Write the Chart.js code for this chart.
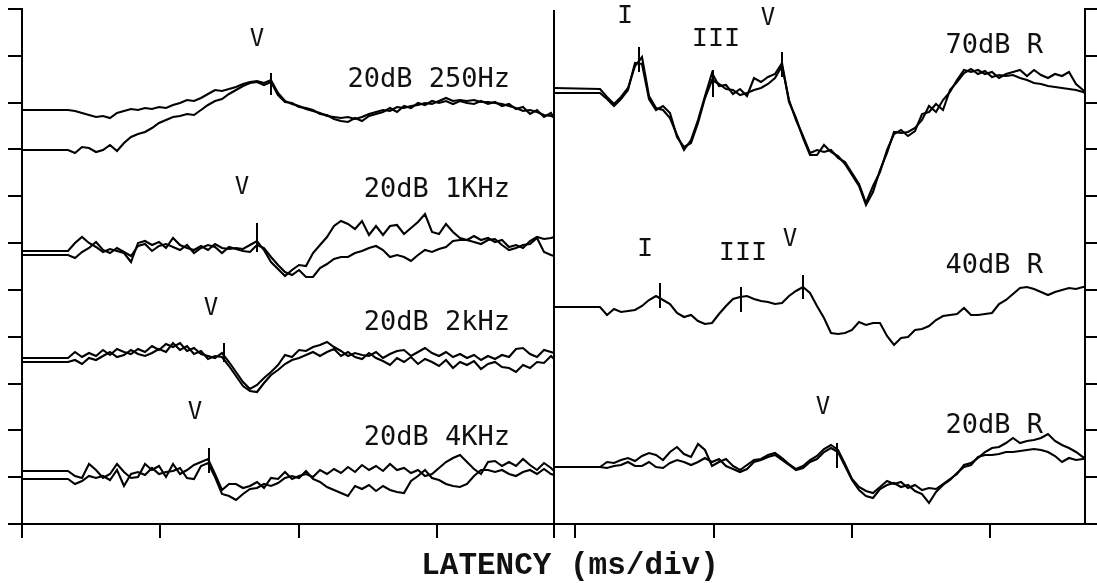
<!DOCTYPE html>
<html lang="en">

<head>
    <meta charset="UTF-8" />
    <title>ABR latency traces</title>
    <script src="https://cdn.jsdelivr.net/npm/chart.js"></script>
    <style>
        html, body { margin: 0; padding: 0; background: #fff; }
    </style>
</head>

<body>
    <canvas id="abrChart" width="1097" height="583"></canvas>

    <script>
        // sample times, in sample units (1 latency division = 138.3 units)
        const leftT = [0, 46, 53, 60, 67, 74, 81, 88, 95, 102, 109, 116, 123, 130, 137, 144, 151, 158, 165, 172, 179, 186, 193, 200, 207, 214, 221, 228, 235, 242, 249, 256, 263, 270, 277, 284, 291, 298, 305, 312, 319, 326, 333, 340, 347, 354, 361, 368, 375, 382, 389, 396, 403, 410, 417, 424, 431, 438, 445, 452, 459, 466, 473, 480, 487, 494, 501, 508, 515, 522, 529, 532];
        const rightT = [532, 578, 585, 592, 599, 606, 613, 620, 627, 634, 641, 648, 655, 662, 669, 676, 683, 690, 697, 704, 711, 718, 725, 732, 739, 746, 753, 760, 767, 774, 781, 788, 795, 802, 809, 816, 823, 830, 837, 844, 851, 858, 865, 872, 879, 886, 893, 900, 907, 914, 921, 928, 935, 942, 949, 956, 963, 970, 977, 984, 991, 998, 1005, 1012, 1019, 1026, 1033, 1040, 1047, 1054, 1061, 1063];

        // amplitudes (stacked, 1 amplitude division = 46.8 units)
        const hz250a = [414, 414, 413, 411, 409, 407, 408, 406, 411, 413, 415, 414, 416, 415, 417, 416, 419, 421, 424, 423, 426, 430, 434, 433, 435, 437, 440, 442, 443, 441, 444, 431, 423, 420, 418, 415, 413, 411, 408, 407, 406, 407, 405, 407, 410, 412, 414, 413, 417, 416, 418, 419, 421, 420, 423, 426, 423, 424, 423, 424, 422, 422, 421, 420, 418, 416, 413, 414, 412, 409, 408, 407];
        const hz250b = [374, 374, 371, 377, 376, 372, 374, 379, 373, 381, 387, 390, 392, 396, 401, 404, 407, 408, 410, 409, 414, 419, 423, 425, 430, 434, 438, 441, 442, 439, 442, 429, 422, 421, 417, 416, 414, 410, 409, 405, 403, 402, 406, 403, 408, 410, 412, 416, 412, 418, 416, 421, 419, 423, 421, 423, 420, 423, 421, 420, 423, 420, 422, 418, 420, 415, 417, 410, 414, 407, 411, 406];
        const k1a = [273, 273, 281, 287, 281, 277, 272, 275, 273, 271, 262, 281, 283, 279, 282, 276, 286, 279, 276, 274, 278, 274, 280, 276, 275, 276, 275, 279, 283, 274, 262, 255, 248, 254, 259, 258, 271, 279, 287, 298, 303, 300, 295, 303, 289, 298, 289, 298, 299, 290, 296, 302, 310, 292, 290, 300, 292, 286, 284, 288, 284, 286, 282, 284, 277, 279, 276, 283, 287, 285, 286, 287];
        const k1b = [269, 269, 266, 272, 276, 282, 274, 271, 276, 272, 268, 278, 280, 273, 278, 280, 277, 274, 279, 271, 276, 279, 277, 271, 277, 275, 273, 272, 279, 276, 267, 259, 252, 249, 254, 247, 247, 256, 260, 265, 267, 267, 271, 273, 276, 278, 274, 267, 269, 267, 263, 269, 274, 272, 275, 277, 283, 284, 284, 282, 280, 284, 285, 279, 274, 276, 279, 280, 286, 272, 269, 268];
        const k2a = [166, 166, 172, 167, 171, 168, 174, 169, 175, 172, 170, 175, 172, 178, 174, 180, 177, 181, 173, 176, 170, 168, 166, 171, 162, 152, 142, 135, 139, 146, 152, 159, 169, 167, 174, 173, 177, 179, 182, 177, 173, 168, 171, 169, 168, 172, 166, 170, 173, 174, 168, 172, 176, 171, 168, 172, 167, 170, 166, 169, 164, 168, 165, 169, 167, 175, 176, 170, 167, 174, 172, 171];
        const k2b = [162, 162, 164, 160, 166, 164, 168, 172, 167, 169, 174, 170, 168, 171, 175, 172, 181, 174, 178, 170, 173, 165, 168, 167, 158, 148, 138, 133, 132, 141, 149, 154, 160, 164, 166, 169, 172, 168, 172, 175, 168, 172, 167, 165, 171, 166, 163, 159, 166, 162, 167, 160, 165, 162, 158, 164, 156, 162, 159, 163, 155, 160, 162, 157, 156, 152, 159, 156, 162, 161, 168, 165];
        const k4a = [53, 53, 48, 46, 60, 54, 46, 50, 60, 52, 46, 47, 60, 54, 58, 47, 60, 50, 54, 59, 62, 65, 50, 34, 40, 40, 36, 38, 42, 36, 46, 45, 52, 45, 48, 50, 47, 54, 50, 55, 51, 57, 52, 59, 54, 58, 53, 60, 54, 56, 51, 54, 48, 50, 56, 62, 66, 69, 62, 55, 50, 62, 63, 58, 62, 58, 65, 59, 54, 61, 56, 53];
        const k4b = [45, 45, 40, 43, 48, 46, 48, 44, 54, 38, 50, 52, 49, 56, 50, 52, 53, 56, 46, 45, 58, 61, 47, 30, 28, 24, 30, 35, 36, 40, 38, 41, 46, 48, 46, 53, 45, 42, 37, 34, 31, 28, 38, 35, 39, 33, 38, 34, 32, 31, 43, 48, 54, 46, 44, 40, 38, 37, 40, 48, 54, 54, 52, 54, 50, 48, 52, 54, 50, 55, 50, 49];
        const db70a = [436, 435, 427, 420, 427, 436, 458, 467, 428, 416, 414, 406, 389, 374, 384, 404, 428, 451, 438, 439, 430, 435, 428, 446, 442, 447, 450, 461, 422, 406, 386, 369, 369, 379, 372, 368, 360, 349, 338, 319, 332, 354, 371, 392, 391, 392, 396, 404, 418, 412, 424, 432, 444, 454, 452, 454, 450, 452, 446, 450, 452, 454, 448, 454, 449, 446, 450, 448, 452, 440, 434, 432];
        const db70b = [431, 431, 425, 418, 425, 434, 461, 460, 425, 414, 418, 411, 387, 377, 381, 401, 426, 444, 440, 435, 434, 429, 431, 434, 436, 440, 446, 458, 424, 404, 388, 371, 374, 372, 374, 366, 362, 351, 340, 321, 338, 352, 374, 390, 394, 388, 393, 410, 412, 420, 414, 434, 442, 451, 455, 450, 453, 447, 449, 448, 449, 446, 444, 441, 440, 438, 437, 436, 435, 434, 432, 431];
        const db40 = [217, 217, 209, 215, 212, 213, 214, 218, 224, 228, 224, 220, 211, 207, 209, 203, 200, 201, 210, 218, 225, 227, 228, 225, 223, 222, 220, 221, 228, 233, 237, 231, 218, 206, 191, 190, 191, 194, 202, 199, 201, 201, 188, 179, 186, 187, 194, 195, 198, 204, 208, 209, 210, 216, 209, 209, 210, 211, 220, 224, 230, 236, 237, 235, 232, 229, 232, 234, 236, 235, 237, 237];
        const db20a = [57, 57, 62, 61, 64, 66, 63, 68, 71, 69, 64, 72, 77, 70, 67, 80, 74, 58, 62, 65, 58, 54, 59, 64, 65, 69, 71, 66, 60, 55, 58, 64, 68, 75, 79, 74, 60, 45, 37, 33, 31, 37, 43, 40, 42, 36, 39, 34, 36, 35, 40, 45, 50, 59, 61, 66, 72, 76, 77, 81, 86, 81, 83, 84, 86, 90, 83, 79, 76, 72, 67, 66];
        const db20b = [57, 57, 56, 58, 59, 62, 58, 58, 62, 57, 56, 61, 64, 62, 59, 62, 66, 62, 65, 58, 55, 52, 55, 62, 64, 67, 69, 64, 59, 54, 56, 62, 65, 72, 76, 72, 58, 44, 34, 28, 26, 35, 39, 41, 37, 39, 33, 30, 21, 32, 39, 44, 51, 57, 59, 67, 69, 69, 70, 72, 72, 73, 74, 75, 74, 72, 68, 62, 66, 64, 65, 65];

        // wave peak markers
        const markT = [249, 235, 202, 187, 617, 691, 760, 638, 719, 781, 815];
        const markLo = [429, 272, 162, 51, 452, 427, 447, 216, 212, 225, 56];
        const markHi = [451, 301, 181, 76, 477, 454, 472, 241, 237, 249, 81];

        // wave names
        const waveNames = ['V', 'V', 'V', 'V', 'I', 'III', 'V', 'I', 'III', 'V', 'V'];
        const waveNameT = [235, 220, 189, 173, 603, 694, 746, 623, 721, 768, 801];
        const waveNameY = [484, 336, 215, 111, 508, 485, 505, 275, 271, 284, 116];

        // stimulus conditions
        const conditions = ['20dB 250Hz', '20dB 1KHz', '20dB 2kHz', '20dB 4KHz', '70dB R', '40dB R', '20dB R'];
        const conditionT = [488, 488, 488, 488, 1021, 1021, 1021];
        const conditionY = [444, 334, 201, 86, 478, 258, 98];

        const DIV = 138.3;
        const AMP_DIV = 515 / 11;
        const panelSplit = 532;
        const xTickVals = [0, 1, 2, 3, 4, 5, 6, 7].map(i => i * DIV).concat([panelSplit]);
        const yTickVals = Array.from({ length: 12 }, (_, i) => i * AMP_DIV);

        const traces = [
            [leftT, hz250a], [leftT, hz250b], [leftT, k1a], [leftT, k1b],
            [leftT, k2a], [leftT, k2b], [leftT, k4a], [leftT, k4b],
            [rightT, db70a], [rightT, db70b], [rightT, db40], [rightT, db20a], [rightT, db20b]
        ];

        const datasets = traces.map(([t, v]) => ({
            data: t.map((u, i) => ({ x: u, y: v[i] })),
            borderColor: '#000',
            borderWidth: 2.1,
            pointRadius: 0,
            tension: 0
        }));

        markT.forEach((u, i) => {
            datasets.push({
                data: [{ x: u, y: markLo[i] }, { x: u, y: markHi[i] }],
                borderColor: '#000',
                borderWidth: 2,
                pointRadius: 0
            });
        });

        // divider between the two panels
        datasets.push({
            data: [{ x: panelSplit, y: 0 }, { x: panelSplit, y: 514 }],
            borderColor: '#000',
            borderWidth: 2,
            pointRadius: 0
        });

        const textPlugin = {
            id: 'abrText',
            afterDraw(chart) {
                const { ctx, scales: { x, y } } = chart;
                ctx.save();
                ctx.fillStyle = '#111';
                ctx.textBaseline = 'middle';

                ctx.textAlign = 'center';
                waveNames.forEach((name, i) => {
                    ctx.font = name === 'V' ? '24px "DejaVu Sans Mono"' : '27px "Liberation Mono"';
                    ctx.fillText(name, x.getPixelForValue(waveNameT[i]), y.getPixelForValue(waveNameY[i]));
                });

                ctx.textAlign = 'right';
                ctx.font = '27px "DejaVu Sans Mono"';
                conditions.forEach((c, i) => {
                    ctx.fillText(c, x.getPixelForValue(conditionT[i]), y.getPixelForValue(conditionY[i]));
                });

                ctx.textAlign = 'center';
                ctx.font = 'bold 31px "Liberation Mono"';
                ctx.fillText('LATENCY (ms/div)', x.getPixelForValue(548), y.getPixelForValue(-42));
                ctx.restore();
            }
        };

        const axisStyle = (tickLength) => ({
            ticks: { display: false },
            grid: { drawOnChartArea: false, drawTicks: true, tickLength: tickLength, color: '#000', lineWidth: 2 },
            border: { display: true, color: '#000', width: 2 }
        });

        new Chart(document.getElementById('abrChart'), {
            type: 'line',
            data: { datasets },
            options: {
                responsive: false,
                animation: false,
                parsing: false,
                layout: { autoPadding: false, padding: { top: 9, left: 8, right: 0, bottom: 45 } },
                plugins: { legend: { display: false }, tooltip: { enabled: false } },
                scales: {
                    x: {
                        type: 'linear', min: 0, max: 1063, position: 'bottom',
                        afterBuildTicks: s => { s.ticks = xTickVals.map(v => ({ value: v })); },
                        ...axisStyle(14)
                    },
                    y: {
                        type: 'linear', min: 0, max: 515, position: 'left',
                        afterBuildTicks: s => { s.ticks = yTickVals.map(v => ({ value: v })); },
                        ...axisStyle(14)
                    },
                    y2: {
                        type: 'linear', min: 0, max: 515, position: 'right',
                        afterBuildTicks: s => { s.ticks = yTickVals.map(v => ({ value: v })); },
                        ...axisStyle(12)
                    }
                }
            },
            plugins: [textPlugin]
        });
    </script>

</body>

</html>
